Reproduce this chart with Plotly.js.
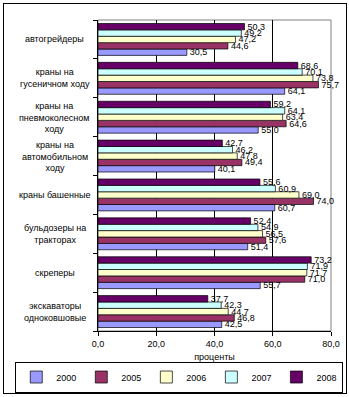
<!DOCTYPE html>
<html><head><meta charset="utf-8">
<script src="https://cdn.plot.ly/plotly-3.0.1.min.js"></script>
<style>
html,body{margin:0;padding:0;background:#fff;}
#frame{position:absolute;left:3px;top:3px;width:342px;height:389px;border:1px solid #000;}
#chart{position:absolute;left:0;top:0;width:349px;height:397px;}
</style></head>
<body>
<div id="frame"></div>
<div id="chart"></div>
<script>
const categories = ["автогрейдеры","краны на<br>гусеничном ходу","краны на<br>пневмоколесном<br>ходу","краны на<br>автомобильном<br>ходу","краны башенные","бульдозеры на<br>тракторах","скреперы","экскаваторы<br>одноковшовые"];
const years = ["2000","2005","2006","2007","2008"];
const v2000 = [30.5,64.1,55.0,40.1,60.7,51.4,55.7,42.5];
const v2005 = [44.6,75.7,64.6,49.4,74.0,57.6,71.0,46.8];
const v2006 = [47.2,73.8,63.4,47.8,69.0,56.5,71.7,44.7];
const v2007 = [49.2,70.1,64.1,46.2,60.9,54.9,71.9,42.3];
const v2008 = [50.3,68.6,59.2,42.7,55.6,52.4,73.2,37.7];
const xTicks = [0,20,40,60,80];
const colors = ["#9999FF","#993366","#FFFFCC","#CCFFFF","#660066"];
const series = [v2000,v2005,v2006,v2007,v2008];

const font = "Liberation Sans, Arial, sans-serif";
const traces = series.map((vals,i)=>({
  type:"bar", orientation:"h", name:years[i],
  x:vals, y:categories,
  marker:{color:colors[i], line:{color:"#000", width:0.7}},
  texttemplate:"%{x:.1f}", textposition:"outside",
  textfont:{family:font,size:9,color:"#000"},
  constraintext:"none", cliponaxis:false, hoverinfo:"skip"
}));

const annotations = categories.map(c=>({
  xref:"paper", yref:"y", x:-0.185, y:c, text:c, showarrow:false,
  xanchor:"center", yanchor:"middle", align:"center",
  font:{family:font,size:9,color:"#000"}
}));

const layout = {
  width:349, height:397,
  margin:{l:98,r:18,t:20,b:66,autoexpand:false},
  paper_bgcolor:"rgba(0,0,0,0)", plot_bgcolor:"#fff",
  separators:", ",
  barmode:"group", bargap:0.18, bargroupgap:0,
  showlegend:true,
  legend:{orientation:"h", x:-0.355, xanchor:"left", y:-0.148, yanchor:"middle",
    bordercolor:"#000", borderwidth:1, font:{family:font,size:9,color:"#000"},
    traceorder:"normal", itemwidth:30},
  xaxis:{range:[0,80], tickvals:xTicks, tickformat:".1f",
    showgrid:true, gridcolor:"#000", gridwidth:1, zeroline:false,
    showline:true, linecolor:"#000", linewidth:1,
    ticks:"outside", ticklen:4, tickcolor:"#000", automargin:true,
    tickfont:{family:font,size:9,color:"#000"},
    title:{text:"проценты", font:{family:font,size:9,color:"#000"}, standoff:5}},
  yaxis:{type:"category", categoryorder:"array", categoryarray:categories.slice().reverse(),
    showticklabels:false, showgrid:false, zeroline:false,
    showline:true, linecolor:"#000", linewidth:1,
    ticks:"outside", ticklen:4, tickcolor:"#000", tickson:"boundaries"},
  shapes:[{type:"rect", xref:"paper", yref:"paper", x0:0, x1:1, y0:0, y1:1,
    line:{color:"#808080", width:1}, layer:"below"}],
  annotations:annotations
};
Plotly.newPlot("chart", traces, layout, {staticPlot:true, displayModeBar:false});
</script>
</body></html>
